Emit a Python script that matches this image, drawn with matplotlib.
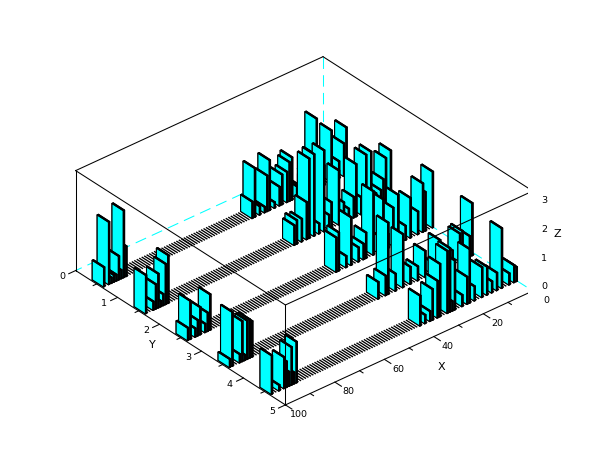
import numpy as np
import matplotlib
matplotlib.use('Agg')
import matplotlib.pyplot as plt
from mpl_toolkits.mplot3d import Axes3D, proj3d
from mpl_toolkits.mplot3d.art3d import Line3DCollection

# heights for X = 1..42 (far cluster) in each row
row1_far = [0, 1.66, 1.14, 0, .6, 0, 0, 1.79, 0, 0, .7, 0, 0, 2.44, 1.25, 0, .4, 0, 0, .3, 0,
            .4, 0, 1.49, 1.36, 1.06, 0, 1.05, .66, 0, .2, 0, 1.75, 1.25, .2, 0, .3, 0, 1.71, .58, 0, 0]
row2_far = [1.75, 0, 1.57, .87, .53, 0, .5, 0, 2.03, 0, 2.0, 0, .6, 0, 1.83, .73, 0, .4, 0, .7, 0,
            1.89, 0, 0, .9, .5, 0, 2.83, 0, .36, 0, 2.85, 0, 2.78, 1.3, 0, .8, 0, .83, .69, 0, 0]
row3_far = [1.95, 0, 0, 1.36, 1.7, 0, .8, 0, 0, 1.39, 0, .5, 0, 0, 1.7, 0, 1.33, 0, .5, 0, 1.78,
            0, .6, 0, 2.22, 0, 0, .9, .55, 0, .5, 0, 0, 1.67, 0, .4, 0, 0, 1.34, 1.2, 0, 0]
row4_far = [0, 1.83, .72, .24, 0, 1.02, .97, 0, 0, .5, 0, 0, .71, 0, 1.06, 0, 0, .4, 0, 0, .92,
            0, 0, .5, 0, 0, .6, 0, 0, 1.86, 0, 0, .6, 0, 0, 2.5, .69, 0, 0, .59, 0, 0]
row5_far = [.5, .6, 0, .4, 0, 0, 2.09, 0, .62, 0, .4, 0, .99, 0, 1.05, 0, 0, .5, 0, 1.88, .95,
            0, .4, 0, 0, 1.72, .34, 2.23, 2.17, 0, 0, 1.84, 1.29, 0, 1.08, .35, 0, .3, 0, 1.05, 0, 0]

# heights for X = 89..100 (near cluster) in each row
row1_near = [0, 0, 1.05, 2.34, .3, .83, .22, .25, .2, 2.18, 0, .68]
row2_near = [0, 0, 1.68, 1.41, .4, .2, 1.19, .86, .3, 0, 0, 1.34]
row3_near = [0, 0, 1.25, .65, .3, 0, .96, .55, .3, 0, 1.34, .44]
row4_near = [0, 0, 1.25, 1.35, 1.35, .2, 1.41, .3, 0, 0, 1.89, .29]
row5_near = [0, 1.43, .4, 1.32, .5, .9, 1.09, 0, .2, 0, 0, 1.35]

far_rows = [row1_far, row2_far, row3_far, row4_far, row5_far]
near_rows = [row1_near, row2_near, row3_near, row4_near, row5_near]

x_major = [0, 20, 40, 60, 80, 100]
y_major = [0, 1, 2, 3, 4, 5]
z_major = [0, 1, 2, 3]

fig = plt.figure(figsize=(6.1, 4.6), dpi=100)
ax = fig.add_axes([-7 / 610, -8 / 460, 1, 1], projection='3d', proj_type='ortho', computed_zorder=False)
ax.set_axis_off()

bar_x = 0.5
bar_y = 0.27
cyan = '#00ffff'
faces = [cyan, 'black', cyan, 'black', cyan, cyan]  # -z +z -y +y -x +x
order = 10
for r in range(5):
    heights = np.zeros(100)
    heights[:42] = far_rows[r]
    heights[88:] = near_rows[r]
    y0 = r + 0.5 - bar_y / 2
    for i in range(100):
        if heights[i] == 0:
            stripe = Line3DCollection([[(i + 0.5, y0, 0), (i + 0.5, y0 + bar_y, 0)]], colors='black', linewidths=0.95)
            ax.add_collection3d(stripe)
            stripe.set_zorder(order)
        else:
            bar = ax.bar3d(i, y0, 0, bar_x, bar_y, heights[i], color=faces, edgecolor='black',
                           linewidth=0.8, shade=False)
            bar.set_zorder(order)
        order += 1

ax.set_xlim(0, 100, view_margin=0)
ax.set_ylim(0, 5, view_margin=0)
ax.set_zlim(0, 3.48, view_margin=0)
ax.set_xticks([])
ax.set_yticks([])
ax.set_zticks([])
ax.set_box_aspect((1, 1, 0.367), zoom=1.0)
ax.view_init(elev=32.9, azim=49.7)

def seg(p, q, z=5000, color='black', **kw):
    kw.setdefault('lw', 0.75)
    ax.plot([p[0], q[0]], [p[1], q[1]], [p[2], q[2]], color=color, zorder=z, **kw)

def label(x, y, z, s, size):
    px, py, _ = proj3d.proj_transform(x, y, z, ax.get_proj())
    ax.text2D(px, py, s, transform=ax.transData, ha='center', va='center', fontsize=size, zorder=6000)

# hidden edges, dashed
zt = 3.48
dash = (0, (11, 6))
seg((0, 0, 0), (100, 0, 0), z=1, color=cyan, ls=dash)
seg((0, 0, 0), (0, 5, 0), z=1, color=cyan, ls=dash)
seg((0, 0, 0), (0, 0, zt), z=1, color=cyan, ls=dash)

# box
seg((100, 0, zt), (0, 0, zt))
seg((0, 0, zt), (0, 5, zt))
seg((0, 5, zt), (100, 5, zt))
seg((100, 5, zt), (100, 0, zt))
seg((100, 0, 0), (100, 0, zt))
seg((100, 0, 0), (100, 5, 0))
seg((100, 5, 0), (0, 5, 0))
seg((0, 5, 0), (0, 5, zt))
seg((100, 5, 0), (100, 5, zt))

# ticks
for v in range(0, 101, 10):
    seg((v, 5, 0), (v, 5 + (0.155 if v % 20 == 0 else 0.08), 0))
for v in np.arange(0, 5.01, 0.5):
    seg((100, v, 0), (100 + (2.8 if v % 1 == 0 else 1.4), v, 0))
for v in np.arange(0, 3.01, 0.5):
    seg((0, 5, v), (-2.8 if v % 1 == 0 else -1.4, 5, v))

for v in x_major:
    label(v, 5.33, 0, str(v), 6.8)
for v in y_major:
    label(105.5, v, 0.03, str(v), 6.8)
for v in z_major:
    label(-4.5, 5, v, str(v), 6.8)

label(49, 5.72, 0, 'X', 8)
label(109, 2.35, 0, 'Y', 8)
label(-10, 5, 1.63, 'Z', 8)

fig.savefig('out.png', dpi=100)
